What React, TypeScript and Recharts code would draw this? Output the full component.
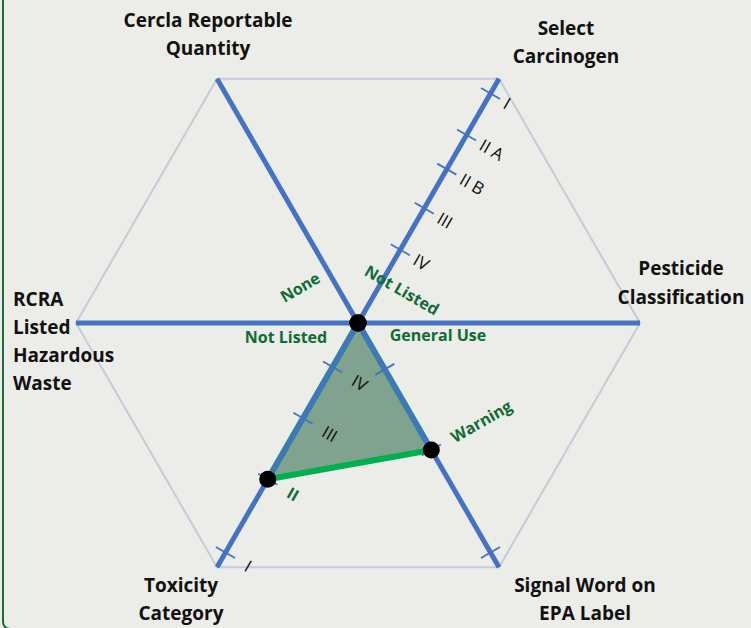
import React from "react";
import { RadarChart, Radar, PolarGrid, PolarAngleAxis, PolarRadiusAxis } from "recharts";

const categories = [
  "Select Carcinogen",
  "Pesticide Classification",
  "Signal Word on EPA Label",
  "Toxicity Category",
  "RCRA Listed Hazardous Waste",
  "Cercla Reportable Quantity",
];

// product position on each axis, 0 = centre of the chart
const scores = [0, 0, 52, 64, 0, 0];

const carcinogenTicks = [30, 47, 63, 77, 94];
const carcinogenLabels = ["IV", "III", "II B", "II A", "I"];
const signalTicks = [19, 52, 94];
const signalLabels = ["", "Warning", ""];
const toxicityTicks = [18, 39, 64, 94];
const toxicityLabels = ["IV", "III", "II", "I"];

const centreLabels = ["Not Listed", "General Use", "", "", "Not Listed", "None"];

const labelLines: Record<string, string[]> = {
  "Select Carcinogen": ["Select", "Carcinogen"],
  "Pesticide Classification": ["Pesticide", "Classification"],
  "Signal Word on EPA Label": ["Signal Word on", "EPA Label"],
  "Toxicity Category": ["Toxicity", "Category"],
  "RCRA Listed Hazardous Waste": ["RCRA", "Listed", "Hazardous", "Waste"],
  "Cercla Reportable Quantity": ["Cercla Reportable", "Quantity"],
};

const tickValues = [carcinogenTicks, [], signalTicks, toxicityTicks, [], []];
const tickLabels = [carcinogenLabels, [], signalLabels, toxicityLabels, [], []];
const SLOTS = 5;

const data = categories.map((category, i) => {
  const row: Record<string, any> = { category, score: scores[i], full: 100, origin: 0 };
  for (let k = 0; k < SLOTS; k++) row[`t${k}`] = tickValues[i][k] ?? 0;
  return row;
});

const W = 751;
const H = 628;
const CX = 358;
const CY = 323;
const R = 282;
const START = 60;
const BLUE = "#4472c4";
const DARK_GREEN = "#0f6b36";
const FONT = "'Open Sans', Lato, sans-serif";

// where the axis names sit, relative to the angle-axis tick point
const nameLayout = [
  { dx: 63, dys: [-44, -16], anchor: "middle" },
  { dx: 33, dys: [-55, -26], anchor: "middle" },
  { dx: 82, dys: [11, 39], anchor: "middle" },
  { dx: -32, dys: [11, 39], anchor: "middle" },
  { dx: -55, dys: [-24, 4, 32, 60], anchor: "start" },
  { dx: -5, dys: [-52, -24], anchor: "middle" },
];

const labelGap = [17, 0, 24, 24, 0, 0];

const centreLayout = [
  { dx: 44, dy: -33, rot: 30 },
  { dx: 80, dy: 12, rot: 0 },
  null,
  null,
  { dx: -72, dy: 14, rot: 0 },
  { dx: -58, dy: -36, rot: -30 },
];

function CategoryTick(props: any) {
  const { x, y, index, payload } = props;
  const lay = nameLayout[index];
  const lines = labelLines[payload.value] ?? [payload.value];
  return (
    <g>
      {lines.map((ln: string, j: number) => (
        <text
          key={j}
          x={x + lay.dx}
          y={y + lay.dys[j]}
          textAnchor={lay.anchor}
          dominantBaseline="central"
          fontFamily={FONT}
          fontWeight={700}
          fontSize={19}
          fill="#111"
        >
          {ln}
        </text>
      ))}
    </g>
  );
}

function axisDir(props: any) {
  const deg = props.payload?.angle ?? START - 60 * props.index;
  const a = (deg * Math.PI) / 180;
  return { dx: Math.cos(a), dy: -Math.sin(a) };
}

function AxisLine(props: any) {
  const { cx, cy, index, payload } = props;
  const ox = payload?.cx ?? CX;
  const oy = payload?.cy ?? CY;
  return <line key={`ax-${index}`} x1={ox} y1={oy} x2={cx} y2={cy} stroke={BLUE} strokeWidth={5} />;
}

const makeTick = (k: number) => (props: any) => {
  const { cx, cy, index } = props;
  const label = tickLabels[index]?.[k];
  if (label === undefined) return <g key={`t${k}-${index}`} />;
  const { dx, dy } = axisDir(props);
  let px = -dy;
  let py = dx;
  if (px < 0) {
    px = -px;
    py = -py;
  }
  const half = 11;
  const gap = labelGap[index];
  const lx = cx + px * gap;
  const ly = cy + py * gap;
  const rot = (Math.atan2(py, px) * 180) / Math.PI;
  const selected = tickValues[index][k] === scores[index];
  return (
    <g key={`t${k}-${index}`}>
      <line
        x1={cx - px * half}
        y1={cy - py * half}
        x2={cx + px * half}
        y2={cy + py * half}
        stroke={BLUE}
        strokeWidth={1.8}
      />
      {label && (
        <text
          x={lx}
          y={ly}
          transform={`rotate(${rot} ${lx} ${ly})`}
          textAnchor="start"
          dominantBaseline="central"
          fontFamily={FONT}
          fontSize={selected ? 16 : 17}
          fontWeight={selected ? 700 : 400}
          fill={selected ? DARK_GREEN : "#111"}
        >
          {label}
        </text>
      )}
    </g>
  );
};

function CentreLabel(props: any) {
  const { cx, cy, index } = props;
  const lay = centreLayout[index];
  const text = centreLabels[index];
  if (!lay || !text) return <g key={`c-${index}`} />;
  const x = cx + lay.dx;
  const y = cy + lay.dy;
  return (
    <text
      key={`c-${index}`}
      x={x}
      y={y}
      transform={`rotate(${lay.rot} ${x} ${y})`}
      textAnchor="middle"
      dominantBaseline="central"
      fontFamily={FONT}
      fontWeight={700}
      fontSize={16}
      fill={DARK_GREEN}
    >
      {text}
    </text>
  );
}

function BlackDot(props: any) {
  return <circle key={`d-${props.index}`} cx={props.cx} cy={props.cy} r={8.5} fill="#000" />;
}

export default function App() {
  return (
    <div
      style={{
        position: "absolute",
        left: 0,
        top: 0,
        width: W,
        height: H,
        overflow: "hidden",
        background: "#ecece8",
      }}
    >
      <div
        style={{
          position: "absolute",
          left: 2,
          top: -20,
          width: 800,
          height: 646,
          border: "2px solid #1d6b3a",
          borderRadius: 8,
        }}
      />
      <div style={{ position: "absolute", left: 0, top: 0 }}>
        <RadarChart
          width={W}
          height={H}
          data={data}
          cx={CX}
          cy={CY}
          outerRadius={R}
          startAngle={START}
          endAngle={START - 360}
          margin={{ top: 0, right: 0, bottom: 0, left: 0 }}
        >
          <PolarGrid gridType="polygon" radialLines={false} polarRadius={[R]} stroke="#c3ccd9" strokeWidth={2} />
          <PolarAngleAxis dataKey="category" tick={CategoryTick} tickLine={false} axisLine={false} />
          <PolarRadiusAxis domain={[0, 100]} tick={false} axisLine={false} />
          <Radar
            dataKey="score"
            stroke="#00b050"
            strokeWidth={6}
            strokeLinejoin="round"
            fill="#3b7252"
            fillOpacity={0.6}
            dot={false}
            isAnimationActive={false}
          />
          <Radar dataKey="full" stroke="none" fill="none" dot={AxisLine} isAnimationActive={false} />
          {Array.from({ length: SLOTS }, (_, k) => (
            <Radar
              key={k}
              dataKey={`t${k}`}
              stroke="none"
              fill="none"
              dot={makeTick(k)}
              isAnimationActive={false}
            />
          ))}
          <Radar dataKey="origin" stroke="none" fill="none" dot={CentreLabel} isAnimationActive={false} />
          <Radar dataKey="score" stroke="none" fill="none" dot={BlackDot} isAnimationActive={false} />
        </RadarChart>
      </div>
    </div>
  );
}
